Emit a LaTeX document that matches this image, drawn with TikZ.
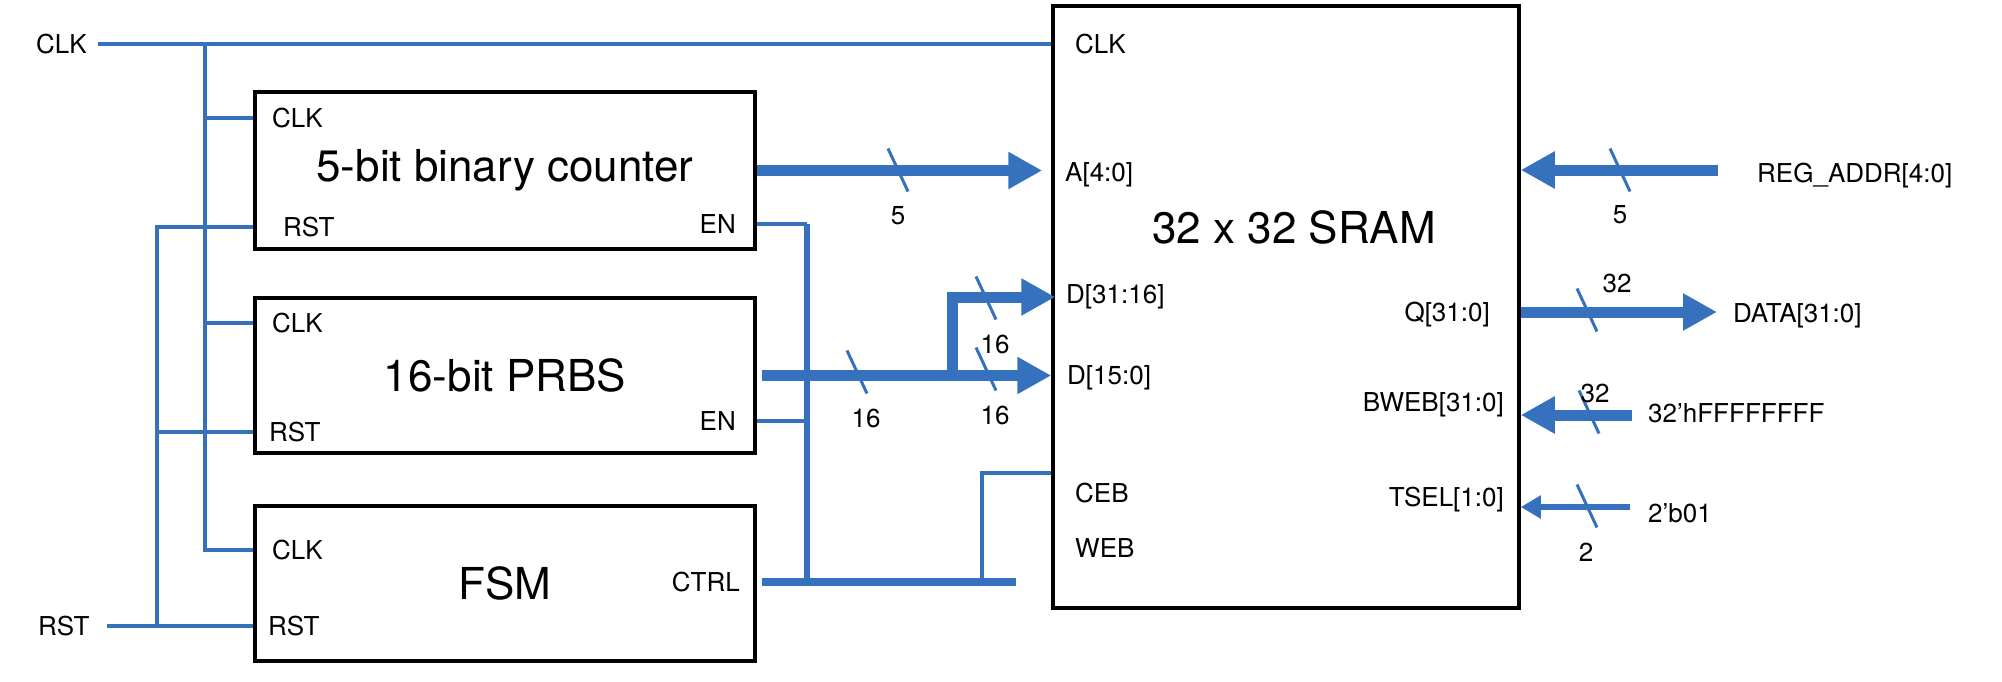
\documentclass[tikz,border=0pt]{standalone}
\usepackage{fontspec}
\setmainfont{TeX Gyre Heros}
\usetikzlibrary{arrows.meta}
\definecolor{wireblue}{HTML}{3571BD}

\tikzset{
  block/.style={draw=black, line width=3.5pt, inner sep=0pt, font=\fontsize{44}{50}\selectfont},
  pinlbl/.style={inner sep=0pt, font=\fontsize{26}{30}\selectfont},
  wire/.style={draw=wireblue, line width=3.5pt},
  enwire/.style={draw=wireblue, line width=6pt},
  ctrlbus/.style={draw=wireblue, line width=8pt},
  bus/.style={draw=wireblue, line width=11pt, -{Triangle[length=34pt,width=35pt]}},
  selbus/.style={draw=wireblue, line width=6pt, -{Triangle[length=20pt,width=22pt]}},
  slash/.style={draw=wireblue, line width=3pt}
}

\begin{document}
\begin{tikzpicture}[x=1pt, y=-1pt]
    \useasboundingbox (0,0) rectangle (2002,682);

    \node[block, minimum width=500pt, minimum height=157pt] (cnt) at (505,170.5) {5-bit binary counter};
    \node[block, minimum width=500pt, minimum height=155pt] (prbs) at (505,375.5) {16-bit PRBS};
    \node[block, minimum width=500pt, minimum height=155pt] (fsm) at (505,583.5) {FSM};
    \node[block, minimum width=466pt, minimum height=602pt] (sram) at (1286,307) {};
    \node[inner sep=0pt, font=\fontsize{44}{50}\selectfont] (sramname) at (1294,227) {32 x 32 SRAM};

    \node[pinlbl, anchor=west] (cclk) at (272,118) {CLK};
    \node[pinlbl, anchor=west] (crst) at (283,227) {RST};
    \node[pinlbl, anchor=east] (cen) at (736,224) {EN};
    \node[pinlbl, anchor=west] (pclk) at (272,323) {CLK};
    \node[pinlbl, anchor=west] (prst) at (269,432) {RST};
    \node[pinlbl, anchor=east] (pen) at (736,421) {EN};
    \node[pinlbl, anchor=west] (fclk) at (272,550) {CLK};
    \node[pinlbl, anchor=west] (frst) at (268,626) {RST};
    \node[pinlbl, anchor=east] (fctrl) at (740,582) {CTRL};

    \node[pinlbl, anchor=west] (sclk) at (1075,44) {CLK};
    \node[pinlbl, anchor=west] (sa) at (1065,175) {A[4:0]};
    \node[pinlbl, anchor=west] (sdhi) at (1066,297) {D[31:16]};
    \node[pinlbl, anchor=west] (sdlo) at (1067,378) {D[15:0]};
    \node[pinlbl, anchor=west] (sceb) at (1075,493) {CEB};
    \node[pinlbl, anchor=west] (sweb) at (1075,548) {WEB};
    \node[pinlbl, anchor=east] (sq) at (1490,315) {Q[31:0]};
    \node[pinlbl, anchor=east] (sbweb) at (1504,405) {BWEB[31:0]};
    \node[pinlbl, anchor=east] (stsel) at (1504,500) {TSEL[1:0]};

    \node[pinlbl, anchor=west] (clkname) at (36,44) {CLK};
    \node[pinlbl, anchor=west] (rstname) at (38,626) {RST};
    \node[pinlbl, anchor=west] (raddrname) at (1757,176) {REG\_ADDR[4:0]};
    \node[pinlbl, anchor=west] (dataname) at (1733,316) {DATA[31:0]};
    \node[pinlbl, anchor=west] (bwebname) at (1648,413) {32’hFFFFFFFF};
    \node[pinlbl, anchor=west] (tselname) at (1648,513) {2’b01};

    \coordinate (clkin) at (98,44);
    \coordinate (clktap) at (205,44);
    \draw[wire] (clkin) -- (sclk -| sram.west);
    \draw[wire] (clktap) |- (fclk -| fsm.west);
    \draw[wire] (clktap |- cclk) -- (cclk -| cnt.west);
    \draw[wire] (clktap |- pclk) -- (pclk -| prbs.west);

    \coordinate (rstin) at (107,626);
    \coordinate (rsttap) at (157,626);
    \draw[wire] (rstin) -- (frst -| fsm.west);
    \draw[wire] (rsttap) |- (crst -| cnt.west);
    \draw[wire] (rsttap |- prst) -- (prst -| prbs.west);

    \coordinate (entap) at (807,582);
    \draw[wire] (cen -| cnt.east) -- (cen -| entap);
    \draw[wire] (pen -| prbs.east) -- (pen -| entap);
    \draw[enwire] (cen -| entap) -- (entap);

    \coordinate (ctrlend) at (1016,582);
    \coordinate (cebtap) at (982,586);
    \coordinate (cebpin) at (sram.west |- 0,473);
    \draw[ctrlbus, shorten <=5pt] (fctrl -| fsm.east) -- (ctrlend);
    \draw[wire] (cebtap) |- (cebpin);

    \coordinate (dsplit) at (952,375.5);
    \draw[bus, shorten >=9pt] (cnt.east) -- (cnt.east -| sram.west);
    \draw[bus, shorten <=5pt] (prbs.east) -- (prbs.east -| sram.west);
    \draw[bus] (dsplit) |- ([xshift=4pt]sdhi -| sram.west);

    \coordinate (raddr) at (1718,170);
    \coordinate (dout) at (1717,312);
    \coordinate (bwebin) at (1632,415);
    \coordinate (tselin) at (1630,507);
    \draw[bus] (raddr) -- (raddr -| sram.east);
    \draw[bus] (dout -| sram.east) -- (dout);
    \draw[bus] (bwebin) -- (bwebin -| sram.east);
    \draw[selbus] (tselin) -- (tselin -| sram.east);

    \foreach \x/\y in {898/170, 857/372, 986/298, 986/369, 1620/170, 1587/310, 1589/412, 1587/506}
      \draw[slash] (\x-10,\y-21.5) -- (\x+10,\y+21.5);

    \node[pinlbl] (wa) at (898,216) {5};
    \node[pinlbl] (wbus) at (866,418) {16};
    \node[pinlbl] (wdhi) at (995,344) {16};
    \node[pinlbl] (wdlo) at (995,415) {16};
    \node[pinlbl] (wraddr) at (1620,215) {5};
    \node[pinlbl] (wq) at (1617,283) {32};
    \node[pinlbl] (wbweb) at (1595,393) {32};
    \node[pinlbl] (wtsel) at (1586,552) {2};
\end{tikzpicture}
\end{document}
